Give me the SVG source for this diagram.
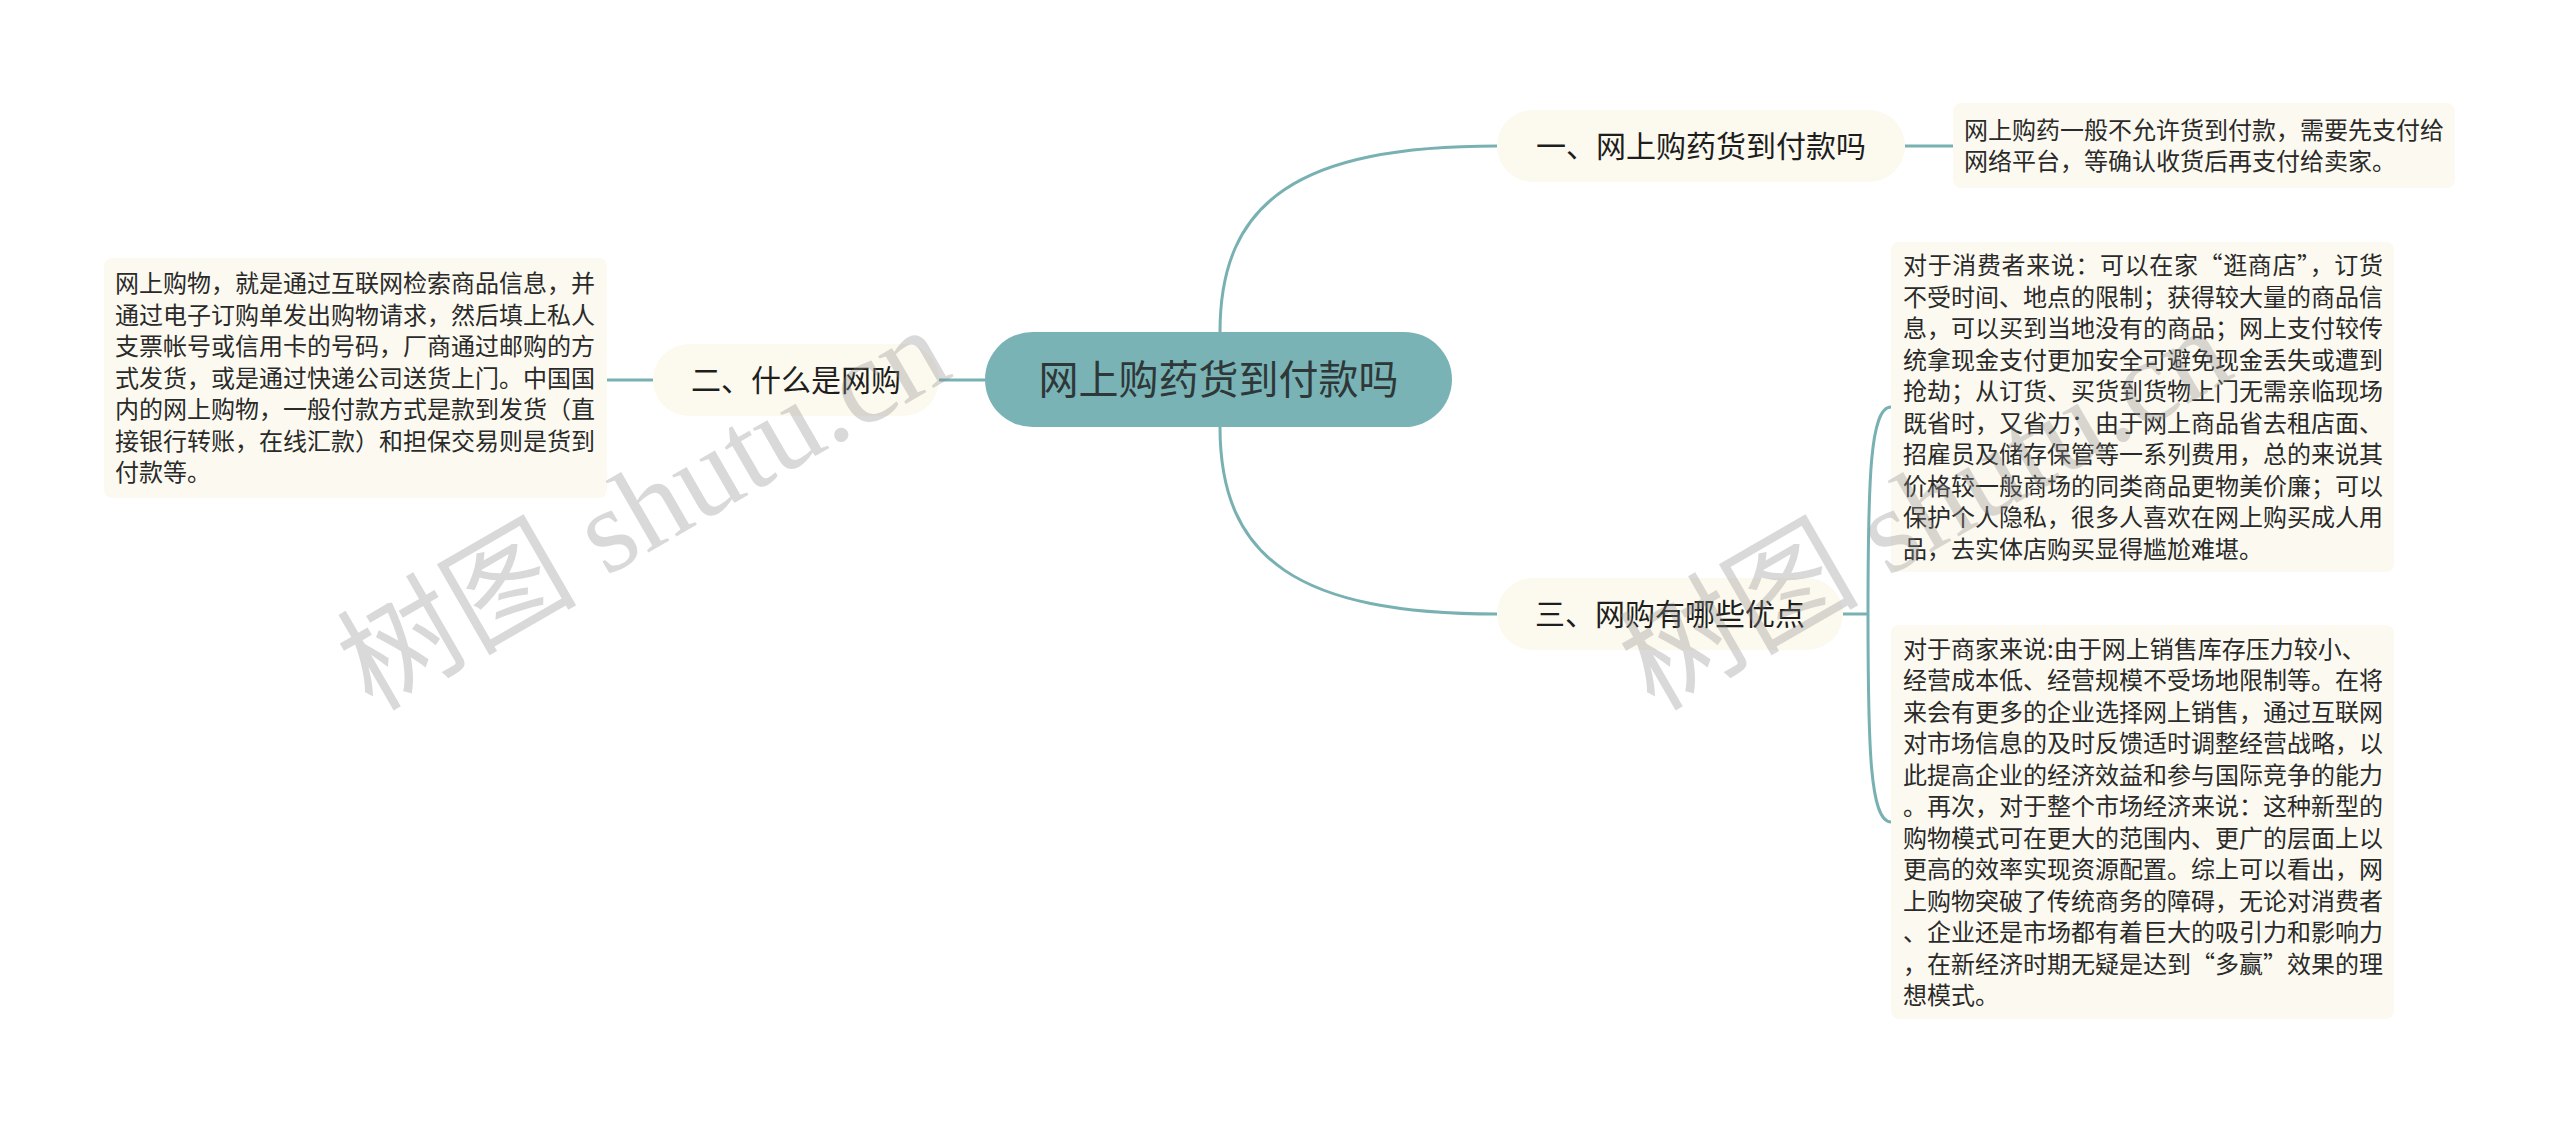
<svg xmlns="http://www.w3.org/2000/svg" width="2560" height="1122" viewBox="0 0 2560 1122">
<style>
.line{fill:none;stroke:#79b1b3;stroke-width:3}
.main{fill:#7ab3b5}
.br{fill:#fcf9ee}
.leaf{fill:#fcfaf0}
.t-main{font-family:"Noto Sans CJK SC","Noto Sans",sans-serif;font-size:40px;fill:#2e3838}
.t-br{font-family:"Noto Sans CJK SC","Noto Sans",sans-serif;font-size:30px;fill:#1e1e1e}
.t-leaf{font-family:"Noto Sans CJK SC","Noto Sans",sans-serif;font-size:24px;fill:#2a2a2a}
.wm{font-family:"Liberation Serif","Noto Sans CJK SC",serif;font-size:120px;fill:#8a8a8a;opacity:0.32}
</style>
<rect width="2560" height="1122" fill="#ffffff"/>
<g id="connectors">
<path class="line" d="M1220,332 C1220,200 1300,146 1497,146"/>
<path class="line" d="M1220,427 C1220,560 1300,614 1497,614"/>
<path class="line" d="M985,380 L939,380"/>
<path class="line" d="M653,380 L607,380"/>
<path class="line" d="M1905,146 L1953,146"/>
<path class="line" d="M1843,614 L1868,614"/>
<path class="line" d="M1868,614 C1868,480 1870,407 1891,407"/>
<path class="line" d="M1868,614 C1868,748 1870,822 1891,822"/>
</g>
<g id="node-center">
<rect class="main" x="985" y="332" width="467" height="95" rx="47.5"/>
<text class="t-main" x="1218.5" y="394" text-anchor="middle">网上购药货到付款吗</text>
</g>
<g id="node-b1">
<rect class="br" x="1497" y="110" width="408" height="72" rx="36"/>
<text class="t-br" x="1701" y="156.5" text-anchor="middle">一、网上购药货到付款吗</text>
</g>
<g id="node-b2">
<rect class="br" x="653" y="344" width="286" height="72" rx="36"/>
<text class="t-br" x="796" y="390.5" text-anchor="middle">二、什么是网购</text>
</g>
<g id="node-b3">
<rect class="br" x="1497" y="578" width="346" height="72" rx="36"/>
<text class="t-br" x="1670" y="624.5" text-anchor="middle">三、网购有哪些优点</text>
</g>
<g id="leaf-1">
<rect class="leaf" x="1953" y="103" width="502" height="85" rx="8"/>
<text class="t-leaf" x="1964" y="138.5">网上购药一般不允许货到付款，需要先支付给</text>
<text class="t-leaf" x="1964" y="170">网络平台，等确认收货后再支付给卖家。</text>
</g>
<g id="leaf-2">
<rect class="leaf" x="104" y="258" width="503" height="240" rx="8"/>
<text class="t-leaf" x="115" y="292">网上购物，就是通过互联网检索商品信息，并</text>
<text class="t-leaf" x="115" y="323.5">通过电子订购单发出购物请求，然后填上私人</text>
<text class="t-leaf" x="115" y="355">支票帐号或信用卡的号码，厂商通过邮购的方</text>
<text class="t-leaf" x="115" y="386.5">式发货，或是通过快递公司送货上门。中国国</text>
<text class="t-leaf" x="115" y="418">内的网上购物，一般付款方式是款到发货（直</text>
<text class="t-leaf" x="115" y="449.5">接银行转账，在线汇款）和担保交易则是货到</text>
<text class="t-leaf" x="115" y="481">付款等。</text>
</g>
<g id="leaf-3a">
<rect class="leaf" x="1891" y="242" width="503" height="330" rx="8"/>
<text class="t-leaf" x="1903" y="274" textLength="480" lengthAdjust="spacing">对于消费者来说：可以在家“逛商店”，订货</text>
<text class="t-leaf" x="1903" y="305.5">不受时间、地点的限制；获得较大量的商品信</text>
<text class="t-leaf" x="1903" y="337">息，可以买到当地没有的商品；网上支付较传</text>
<text class="t-leaf" x="1903" y="368.5">统拿现金支付更加安全可避免现金丢失或遭到</text>
<text class="t-leaf" x="1903" y="400">抢劫；从订货、买货到货物上门无需亲临现场</text>
<text class="t-leaf" x="1903" y="431.5">既省时，又省力；由于网上商品省去租店面、</text>
<text class="t-leaf" x="1903" y="463">招雇员及储存保管等一系列费用，总的来说其</text>
<text class="t-leaf" x="1903" y="494.5">价格较一般商场的同类商品更物美价廉；可以</text>
<text class="t-leaf" x="1903" y="526">保护个人隐私，很多人喜欢在网上购买成人用</text>
<text class="t-leaf" x="1903" y="557.5">品，去实体店购买显得尴尬难堪。</text>
</g>
<g id="leaf-3b">
<rect class="leaf" x="1891" y="625" width="503" height="394" rx="8"/>
<text class="t-leaf" x="1903" y="657.5">对于商家来说:由于网上销售库存压力较小、</text>
<text class="t-leaf" x="1903" y="689">经营成本低、经营规模不受场地限制等。在将</text>
<text class="t-leaf" x="1903" y="720.5">来会有更多的企业选择网上销售，通过互联网</text>
<text class="t-leaf" x="1903" y="752">对市场信息的及时反馈适时调整经营战略，以</text>
<text class="t-leaf" x="1903" y="783.5">此提高企业的经济效益和参与国际竞争的能力</text>
<text class="t-leaf" x="1903" y="815">。再次，对于整个市场经济来说：这种新型的</text>
<text class="t-leaf" x="1903" y="846.5">购物模式可在更大的范围内、更广的层面上以</text>
<text class="t-leaf" x="1903" y="878">更高的效率实现资源配置。综上可以看出，网</text>
<text class="t-leaf" x="1903" y="909.5">上购物突破了传统商务的障碍，无论对消费者</text>
<text class="t-leaf" x="1903" y="941">、企业还是市场都有着巨大的吸引力和影响力</text>
<text class="t-leaf" x="1903" y="972.5" textLength="480" lengthAdjust="spacing">，在新经济时期无疑是达到“多赢”效果的理</text>
<text class="t-leaf" x="1903" y="1004">想模式。</text>
</g>
<g id="watermarks">
<text class="wm" transform="translate(372,712) rotate(-30)">树图 shutu.cn</text>
<text class="wm" transform="translate(1654,712) rotate(-30)">树图 shutu.cn</text>
</g>
</svg>
